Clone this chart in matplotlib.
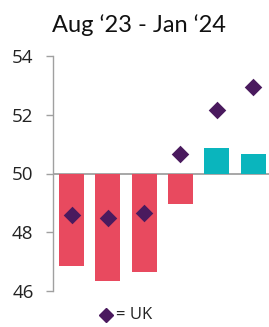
import matplotlib
matplotlib.use("Agg")
import matplotlib.pyplot as plt
from matplotlib.lines import Line2D

months = ["Aug", "Sep", "Oct", "Nov", "Dec", "Jan"]
region_values = [46.85, 46.35, 46.65, 48.95, 50.87, 50.68]
uk_values = [48.6, 48.5, 48.65, 50.65, 52.15, 52.95]
yticks = [46, 48, 50, 52, 54]
title = "Aug \u201823 - Jan \u201824"

red = "#E84A5F"
teal = "#0AB5BD"
purple = "#4A1A5E"
grey = "#A0A0A0"

fig = plt.figure(figsize=(2.69, 3.27), dpi=100)
ax = fig.add_axes([53/269, 1-291/327, 1-53/269, (291-56)/327])

x = list(range(len(months)))
base = 50
heights = [v - base for v in region_values]
colors = [red if h < 0 else teal for h in heights]
ax.bar(x, heights, bottom=base, width=0.69, color=colors, zorder=2)
ax.scatter(x, uk_values, marker="D", s=80, color=purple, zorder=3, linewidths=0)

ax.axhline(base, color=grey, lw=1.3, zorder=1)
ax.set_ylim(46, 54)
ax.set_xlim(-0.51, 5.44)
ax.set_yticks(yticks)
ax.set_yticklabels([str(t) for t in yticks], fontsize=13.5, color="#222222", family="Open Sans")
ax.set_xticks([])
for s in ["top", "right", "bottom"]:
    ax.spines[s].set_visible(False)
ax.spines["left"].set_color(grey)
ax.spines["left"].set_linewidth(1.0)
ax.tick_params(axis="y", length=5, width=1.0, color=grey, pad=9)

fig.text(139/269, 1-25/327, title, ha="center", va="center", fontsize=17, family="Lato", color="#111111")

fig.lines.append(Line2D([106/269], [1-315/327], marker="D", markersize=7.5, color=purple,
                        linestyle="none", transform=fig.transFigure, figure=fig))
fig.text(115.5/269, 1-315/327, "= UK", ha="left", va="center", fontsize=12, family="Open Sans", color="#222222")

fig.savefig("out.png", dpi=100)
